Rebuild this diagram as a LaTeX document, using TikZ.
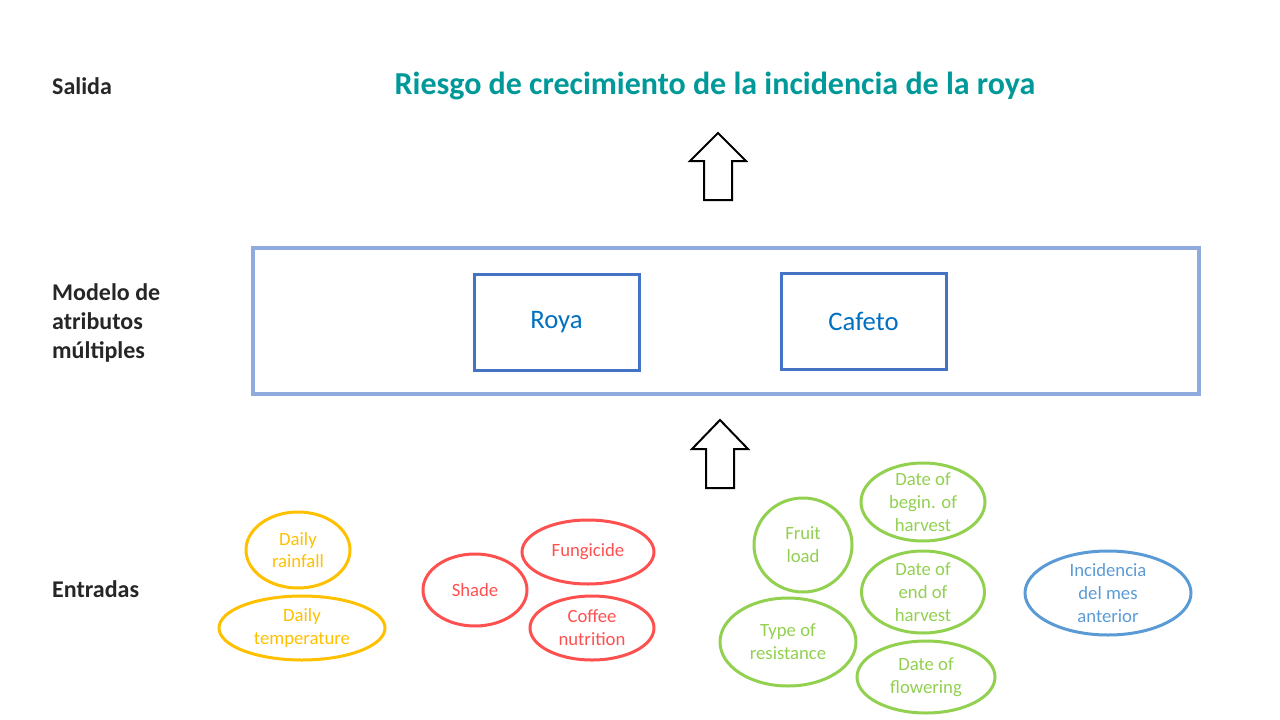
\documentclass[tikz,border=0pt]{standalone}
\usepackage{fontspec}
\setmainfont{Carlito}
\usetikzlibrary{shapes.geometric}

\definecolor{tealtitle}{RGB}{0,153,153}
\definecolor{outerblue}{RGB}{143,170,220}
\definecolor{boxblue}{RGB}{68,114,196}
\definecolor{textblue}{RGB}{0,112,192}
\definecolor{inorange}{RGB}{255,192,0}
\definecolor{inred}{RGB}{255,80,80}
\definecolor{ingreen}{RGB}{146,208,80}
\definecolor{inblue}{RGB}{91,155,213}
\definecolor{labelgray}{RGB}{38,38,38}

\tikzset{
  rowlabel/.style={anchor=west, align=left, inner sep=0pt, font=\fontsize{24}{29}\selectfont\bfseries, text=labelgray},
  modelbox/.style={draw=boxblue, line width=3pt, minimum width=165pt, minimum height=96pt,
    font=\fontsize{26.7}{30}\selectfont, text=textblue},
  inputell/.style={ellipse, line width=3pt, inner sep=-10pt, align=center,
    font=\fontsize{18.7}{22.8}\selectfont},
  blockarrow/.style={draw=black, line width=2pt, fill=white}
}

\begin{document}
\begin{tikzpicture}[x=1pt, y=-1pt]
    \useasboundingbox (0,0) rectangle (1280,720);

    % row labels
    \node[rowlabel] (salida) at (52,86) {Salida};
    \node[rowlabel] (modelo) at (52,323) {Modelo de\\atributos\\múltiples};
    \node[rowlabel] (entradas) at (52,589) {Entradas};

    % output
    \node[font=\fontsize{32}{36}\selectfont\bfseries, text=tealtitle] (riesgo) at (715,86)
        {Riesgo de crecimiento de la incidencia de la roya};

    % model
    \draw[outerblue, line width=4pt] (253,248) rectangle (1199,394);
    \node[modelbox] (roya) at (556.5,322) {Roya};
    \node[modelbox] (cafeto) at (863.5,321) {Cafeto};

    % block arrows
    \draw[blockarrow] (704,200) -- (704,161) -- (690,161) -- (718,133) -- (746,161) -- (732,161) -- (732,200) -- cycle;
    \draw[blockarrow] (706,488) -- (706,449) -- (692,449) -- (720,420) -- (748,449) -- (734,449) -- (734,488) -- cycle;

    % inputs
    \node[inputell, draw=inorange, text=inorange, minimum width=104pt, minimum height=76pt] (rain) at (298,550) {Daily\\rainfall};
    \node[inputell, draw=inorange, text=inorange, minimum width=166pt, minimum height=64pt] (temp) at (302,628) {Daily\\temperature};

    \node[inputell, draw=inred, text=inred, minimum width=104pt, minimum height=72pt] (shade) at (475,590) {Shade};
    \node[inputell, draw=inred, text=inred, minimum width=132pt, minimum height=64pt] (fung) at (588,552) {Fungicide};
    \node[inputell, draw=inred, text=inred, minimum width=124pt, minimum height=64pt] (nutri) at (592,628) {Coffee\\nutrition};

    \node[inputell, draw=ingreen, text=ingreen, minimum width=98pt, minimum height=94pt] (fruit) at (803,545) {Fruit\\load};
    \node[inputell, draw=ingreen, text=ingreen, minimum width=124pt, minimum height=78pt] (begin) at (923,502) {Date of\\begin. of\\harvest};
    \node[inputell, draw=ingreen, text=ingreen, minimum width=123pt, minimum height=82pt] (end) at (923,592) {Date of\\end of\\harvest};
    \node[inputell, draw=ingreen, text=ingreen, minimum width=136pt, minimum height=88pt] (resist) at (788,642) {Type of\\resistance};
    \node[inputell, draw=ingreen, text=ingreen, minimum width=138pt, minimum height=72pt] (flower) at (926,677) {Date of\\flowering};

    \node[inputell, draw=inblue, text=inblue, minimum width=166pt, minimum height=84pt] (prev) at (1108,593) {Incidencia\\del mes\\anterior};
\end{tikzpicture}
\end{document}
